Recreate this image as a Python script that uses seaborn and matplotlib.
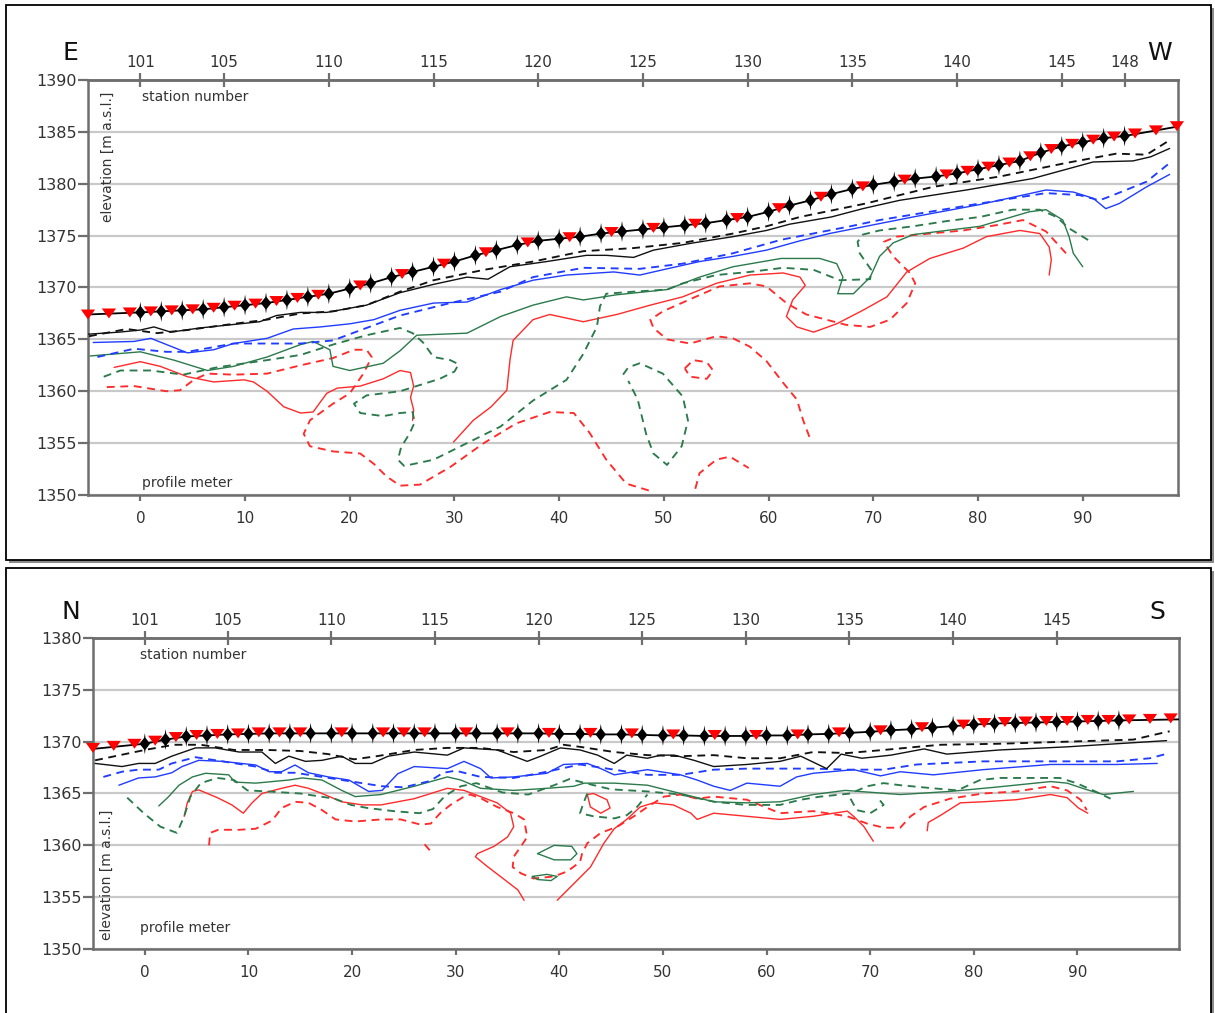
import matplotlib
matplotlib.use("Agg")
import matplotlib.pyplot as plt
import pandas as pd
import seaborn as sns
from matplotlib.patches import Rectangle

# ------------------------------------------------------------------ data
PROFILE_TICKS = [0, 10, 20, 30, 40, 50, 60, 70, 80, 90]
STATION_TICKS_EW = [101, 105, 110, 115, 120, 125, 130, 135, 140, 145, 148]
STATION_TICKS_NS = [101, 105, 110, 115, 120, 125, 130, 135, 140, 145]
STATION_M = [0, 2, 4, 6, 8, 10, 12, 14, 16, 18, 20, 22, 24, 26, 28, 30, 32, 34, 36, 38,
             40, 42, 44, 46, 48, 50, 52, 54, 56, 58, 60, 62, 64, 66, 68, 70, 72, 74, 76, 78,
             80, 82, 84, 86, 88, 90, 92, 94]

# --- E-W profile (upper panel)
EW_STATION_ELEV = [1367.6, 1367.7, 1367.8, 1367.9, 1368.1, 1368.3, 1368.5, 1368.8, 1369.1, 1369.4,
                   1369.9, 1370.4, 1371.0, 1371.5, 1372.0, 1372.5, 1373.1, 1373.6, 1374.1, 1374.5,
                   1374.7, 1374.9, 1375.2, 1375.4, 1375.6, 1375.8, 1376.0, 1376.2, 1376.5, 1376.8,
                   1377.3, 1377.9, 1378.4, 1379.0, 1379.5, 1379.9, 1380.2, 1380.5, 1380.7, 1381.0,
                   1381.4, 1381.8, 1382.2, 1383.0, 1383.6, 1384.0, 1384.4, 1384.6]
EW_TOPO_ENDS = [(-5, 1367.4), (99, 1385.5)]
EW_ELECTRODE_M = [-5, -3, -1, 1, 3, 5, 7, 9, 11, 13, 15, 17, 21, 25, 29, 33, 37, 41, 45, 49, 53,
                  57, 61, 65, 69, 73, 77, 79, 81, 83, 85, 87, 89, 91, 93, 95, 97, 99]
EW_ELECTRODE_ELEV = [1367.5, 1367.6, 1367.7, 1367.8, 1367.9, 1368.0, 1368.15, 1368.35, 1368.55,
                     1368.8, 1369.1, 1369.4, 1370.3, 1371.4, 1372.4, 1373.5, 1374.45, 1374.95,
                     1375.45, 1375.85, 1376.25, 1376.8, 1377.75, 1378.85, 1379.85, 1380.5,
                     1381.0, 1381.35, 1381.75, 1382.15, 1382.75, 1383.45, 1383.95, 1384.35,
                     1384.65, 1384.95, 1385.25, 1385.65]

EW_BLACK_SOLID = [(-5, 1365.5), (-2, 1365.7), (0, 1365.9), (1.3, 1366.2), (2.9, 1365.7), (5.7, 1366.1),
                  (11.4, 1366.7), (13, 1367.3), (15.3, 1367.6), (17.8, 1367.6), (21.6, 1368.3),
                  (24.8, 1369.5), (28, 1370.3), (31.2, 1371.0), (33.2, 1370.8), (35.3, 1372.0),
                  (38.8, 1372.5), (42.6, 1373.1), (44.5, 1373.1), (47.1, 1372.9), (49, 1373.6),
                  (52.8, 1374.3), (56.6, 1374.9), (59.8, 1375.5), (62, 1376.1), (66, 1376.8),
                  (69, 1377.6), (72.5, 1378.4), (78.9, 1379.4), (85.2, 1380.5), (91, 1382.1),
                  (94.8, 1382.2), (96.5, 1382.6), (98.3, 1383.4)]
EW_BLACK_DASH = [(-4.9, 1365.3), (-1.3, 1366.0), (1.6, 1365.6), (4.5, 1365.9), (8.9, 1366.5),
                 (12.1, 1366.9), (15.3, 1367.5), (18.4, 1367.7), (21.6, 1368.3), (24.8, 1369.6),
                 (28, 1370.7), (32.8, 1371.7), (37.5, 1372.5), (42.3, 1373.5), (47.1, 1373.8),
                 (51.8, 1374.3), (56.6, 1375.2), (59.8, 1375.9), (63, 1376.8), (69.3, 1378.1),
                 (75.7, 1379.7), (82.1, 1380.7), (88.4, 1382.0), (93.2, 1382.9), (96.1, 1382.8),
                 (98.3, 1384.2)]
EW_BLUE_SOLID = [(-4.5, 1364.7), (-0.6, 1364.8), (1.0, 1365.1), (2.5, 1364.5), (4.5, 1363.7),
                 (7, 1364.0), (8.9, 1364.6), (12.1, 1365.1), (14.6, 1366.0), (17.2, 1366.2),
                 (20, 1366.5), (22.3, 1366.9), (24.8, 1367.8), (28, 1368.5), (31.2, 1368.6),
                 (34.4, 1369.8), (37.5, 1370.7), (40.7, 1371.2), (45.2, 1371.5), (47.7, 1371.2),
                 (50.3, 1371.8), (53.4, 1372.5), (56.6, 1373.0), (59.8, 1373.6), (63, 1374.5),
                 (65.8, 1375.2), (69.8, 1376.0), (73.8, 1376.8), (80.2, 1378.0), (86.5, 1379.4),
                 (89.1, 1379.2), (91, 1378.6), (92.2, 1377.6), (93.5, 1378.1), (96.1, 1379.7),
                 (98.3, 1380.9)]
EW_BLUE_DASH = [(-4.1, 1363.3), (-0.6, 1364.1), (2.5, 1363.8), (4.5, 1363.8), (8.9, 1364.6),
                (15.3, 1364.6), (18.4, 1364.9), (21.6, 1366.1), (24.8, 1367.3), (29.6, 1368.5),
                (34.4, 1369.6), (37.5, 1371.0), (42.3, 1371.9), (47.7, 1371.8), (51.8, 1372.3),
                (56.6, 1373.3), (61.2, 1374.6), (67.8, 1375.9), (70.6, 1376.5), (80.2, 1378.1),
                (86.5, 1379.1), (89.7, 1378.9), (91.6, 1378.4), (92.9, 1378.9), (96.1, 1380.2),
                (98.3, 1382.0)]
EW_GREEN_SOLID = [(-4.8, 1363.4), (0, 1363.8), (3.2, 1363.0), (6.4, 1362.0), (8.9, 1362.4),
                  (12.1, 1363.3), (15.3, 1364.5), (16.5, 1364.8), (18.1, 1364.0), (18.4, 1362.4),
                  (20, 1362.0), (23.2, 1362.7), (24.8, 1363.9), (26.4, 1365.4), (31.2, 1365.6),
                  (34.4, 1367.2), (37.5, 1368.3), (40.7, 1369.1), (42.3, 1368.8), (45.5, 1369.3),
                  (50.3, 1369.8), (53.4, 1371.0), (56.6, 1372.0), (61.2, 1372.8), (64.9, 1372.8),
                  (66.5, 1372.3), (67.1, 1371.0), (66.6, 1369.4), (68.1, 1369.4), (69.7, 1371.0),
                  (70.6, 1373.0), (71.9, 1374.3), (73.8, 1375.1), (80.2, 1375.9), (84.9, 1377.3),
                  (86.5, 1377.5), (88.1, 1376.5), (88.7, 1374.9), (89.1, 1373.3), (90, 1372.0)]
EW_GREEN_DASH_A = [(-3.5, 1361.4), (-1.9, 1362.0), (1, 1362.0), (4.1, 1361.6), (7.3, 1362.3),
                   (12.1, 1363.0), (15.3, 1363.5), (18.4, 1364.5), (21.6, 1365.4), (24.8, 1366.1),
                   (26.0, 1365.6), (27.0, 1364.7), (28.0, 1363.3), (29.6, 1363.0), (30.4, 1362.6),
                   (30.0, 1361.9), (28.6, 1361.2), (26.7, 1360.6), (24.8, 1360.0), (21.6, 1359.6),
                   (20.4, 1358.8), (21.0, 1357.9), (23.2, 1357.6), (24.8, 1357.9), (26.0, 1358.0),
                   (26.2, 1357.0), (25.7, 1355.9), (24.9, 1354.6), (24.6, 1353.4), (25.2, 1352.8),
                   (28.0, 1353.4), (31.2, 1355.0), (34.4, 1356.6), (37.5, 1359.1), (40.7, 1361.1),
                   (42.3, 1363.6), (43.6, 1366.2), (43.9, 1368.2), (44.5, 1369.4), (47.1, 1369.6),
                   (50.3, 1369.8), (51.8, 1370.4), (55, 1371.2), (58.2, 1371.5), (61.4, 1371.9),
                   (64.3, 1371.7), (66.8, 1370.7), (69.7, 1370.8), (69.8, 1371.7), (68.7, 1373.3),
                   (68.5, 1374.4), (69, 1375.1), (70.6, 1375.5), (73.8, 1375.9), (77, 1376.4),
                   (80.2, 1376.8), (83.3, 1377.5), (85.9, 1377.5), (87.5, 1376.8), (88.7, 1375.7),
                   (90.8, 1374.4)]
EW_GREEN_DASH_B = [(46.1, 1361.6), (46.6, 1362.3), (47.7, 1362.7), (49.9, 1361.7), (51.8, 1359.5),
                   (52.3, 1357.2), (51.7, 1354.7), (50.3, 1352.9), (49.0, 1354.0), (48.3, 1355.9),
                   (47.5, 1359.2), (46.6, 1361.0)]
EW_RED_SOLID_A = [(-2.5, 1362.3), (0, 1362.85), (1.9, 1362.4), (4.5, 1361.4), (7, 1360.9),
                  (9.9, 1361.1), (10.8, 1360.9), (12.1, 1360.0), (13.7, 1358.5), (15.3, 1357.9),
                  (16.5, 1358.0), (17.8, 1359.8), (18.8, 1360.3), (21, 1360.5), (23.2, 1361.2),
                  (24.8, 1362.0), (25.8, 1361.8), (26.1, 1360.5), (25.8, 1359.4), (26.1, 1358.2),
                  (26.0, 1357.2)]
EW_RED_SOLID_B = [(29.9, 1355.1), (31.8, 1357.2), (33.5, 1358.5), (35, 1360.1), (35.3, 1363.0),
                  (35.6, 1364.9), (37.5, 1366.9), (39.1, 1367.4), (42.3, 1366.7), (45.5, 1367.4),
                  (48.7, 1368.3), (51.8, 1369.1), (55, 1370.4), (58.2, 1371.2), (61.4, 1371.4),
                  (63, 1371.0), (63.5, 1370.2), (62.3, 1368.8), (61.7, 1367.2), (62.7, 1366.2),
                  (64.3, 1365.7), (66.5, 1366.5), (69, 1367.8), (71.3, 1369.1), (73.2, 1371.5),
                  (75.4, 1372.8), (78.6, 1373.8), (80.8, 1374.9), (84, 1375.5), (85.9, 1375.2),
                  (86.8, 1373.9), (87, 1372.7), (86.8, 1371.2)]
EW_RED_DASH_A = [(-3.2, 1360.4), (-0.6, 1360.5), (2.5, 1360.0), (3.8, 1360.1), (5.1, 1361.1),
                 (6.4, 1361.7), (8.9, 1361.6), (12.1, 1361.7), (15.3, 1362.5), (18.4, 1363.2),
                 (20.4, 1364.0), (21.6, 1364.0), (22.1, 1363.3), (21.3, 1361.7), (20, 1359.8),
                 (18.4, 1358.8), (16.2, 1357.2), (15.6, 1355.9), (16.2, 1354.7), (18.4, 1354.2),
                 (21, 1354.0), (22.3, 1353.0), (23.5, 1351.8), (24.8, 1350.9), (26.7, 1351.0),
                 (29.6, 1352.7), (32.8, 1355.0), (35.9, 1356.9), (39.1, 1358.0), (41.4, 1357.9),
                 (42.9, 1356.0), (44.5, 1353.4), (46.4, 1351.1), (49, 1350.3)]
EW_RED_DASH_B = [(63.9, 1355.6), (63.3, 1357.2), (62.7, 1359.2), (61.4, 1360.8), (59.8, 1362.9),
                 (58.2, 1364.3), (56.6, 1365.1), (55, 1365.3), (52.5, 1364.6), (50.3, 1365.0),
                 (49, 1366.1), (48.7, 1366.9), (49.9, 1367.7), (52.8, 1369.0), (55.3, 1370.1),
                 (58.2, 1370.4), (59.8, 1370.1), (61.7, 1368.5), (63.6, 1367.4), (67.4, 1366.4),
                 (69.7, 1366.2), (71.6, 1366.9), (73.2, 1368.5), (74, 1370.4), (73.5, 1371.4),
                 (71.9, 1373.0), (71, 1374.4), (72.2, 1374.9), (75.4, 1375.2), (78.6, 1375.5),
                 (81.7, 1376.0), (84.3, 1376.5), (86.5, 1375.4), (87.5, 1374.3), (88.4, 1373.3)]
EW_RED_DASH_C = [(52.0, 1362.2), (52.8, 1363.0), (54.1, 1362.8), (54.7, 1362.0), (54.1, 1361.2),
                 (52.5, 1361.4), (52.0, 1362.2)]
EW_RED_DASH_D = [(53.0, 1350.6), (53.4, 1352.1), (55.0, 1353.4), (56.3, 1353.7), (58.1, 1352.6)]

# --- N-S profile (lower panel)
NS_STATION_ELEV = [1369.8, 1370.2, 1370.5, 1370.6, 1370.7, 1370.75, 1370.8, 1370.8, 1370.8, 1370.8,
                   1370.8, 1370.8, 1370.8, 1370.8, 1370.8, 1370.8, 1370.8, 1370.8, 1370.8, 1370.8,
                   1370.75, 1370.75, 1370.7, 1370.7, 1370.65, 1370.6, 1370.6, 1370.55, 1370.55,
                   1370.55, 1370.6, 1370.6, 1370.7, 1370.75, 1370.85, 1370.95, 1371.1, 1371.2,
                   1371.35, 1371.5, 1371.65, 1371.75, 1371.8, 1371.85, 1371.9, 1371.95, 1372.0,
                   1372.05]
NS_TOPO_ENDS = [(-5, 1369.3), (99.8, 1372.15)]
NS_ELECTRODE_M = [-5, -3, -1, 1, 3, 5, 7, 9, 11, 13, 15, 19, 23, 25, 27, 31, 35, 39, 43, 47, 51,
                  55, 59, 63, 67, 71, 75, 79, 81, 83, 85, 87, 89, 91, 93, 95, 97, 99]
NS_ELECTRODE_ELEV = [1369.5, 1369.7, 1369.9, 1370.2, 1370.55, 1370.75, 1370.85, 1370.9, 1371.0,
                     1371.0, 1371.0, 1371.0, 1371.0, 1371.0, 1371.0, 1371.0, 1371.0, 1370.95,
                     1370.95, 1370.9, 1370.8, 1370.75, 1370.75, 1370.8, 1371.0, 1371.2, 1371.5,
                     1371.75, 1371.9, 1372.0, 1372.05, 1372.1, 1372.1, 1372.2, 1372.2, 1372.25,
                     1372.3, 1372.35]

NS_BLACK_SOLID = [(-4.8, 1367.9), (-2.2, 1367.6), (-0.6, 1367.9), (1.0, 1367.9), (2.6, 1368.6),
                  (4.9, 1369.4), (6.8, 1369.4), (9.1, 1369.0), (11.3, 1369.0), (12.6, 1367.9),
                  (13.9, 1368.6), (15.5, 1368.1), (17.1, 1368.2), (19.0, 1368.6), (20.3, 1367.9),
                  (21.9, 1367.9), (23.5, 1368.6), (26, 1369.0), (29.2, 1368.7), (30.8, 1369.4),
                  (34, 1369.2), (35.6, 1368.6), (36.9, 1368.1), (38.2, 1368.6), (40.1, 1369.4),
                  (42, 1369.2), (43.7, 1368.7), (45.3, 1367.9), (46.5, 1368.7), (48.5, 1368.4),
                  (49.8, 1368.7), (51.1, 1368.7), (53, 1368.2), (54.9, 1367.6), (58.1, 1367.8),
                  (61.3, 1368.1), (63.3, 1368.6), (65.8, 1367.4), (67.2, 1368.8), (69.2, 1368.4),
                  (72, 1368.7), (75.2, 1369.3), (77.4, 1368.8), (82.5, 1369.2), (89, 1369.5),
                  (93.8, 1369.8), (98.6, 1370.1)]
NS_BLACK_DASH = [(-4.8, 1368.2), (-2.4, 1368.7), (0, 1369.2), (2.8, 1369.7), (5.4, 1369.7),
                 (8.6, 1369.2), (11.8, 1369.2), (15, 1369.1), (17.7, 1368.8), (20.2, 1368.3),
                 (22.4, 1368.6), (26, 1369.2), (29.2, 1369.4), (32.4, 1369.4), (35.6, 1369.0),
                 (38.8, 1369.2), (40.4, 1369.7), (42, 1369.5), (45.3, 1369.0), (48.5, 1368.7),
                 (51.7, 1368.6), (54.9, 1368.7), (58.1, 1368.4), (61.3, 1368.4), (64.5, 1369.0),
                 (67.8, 1368.9), (71.3, 1369.2), (74.5, 1369.5), (76.8, 1369.7), (82.5, 1369.8),
                 (89, 1370.0), (95.4, 1370.2), (98, 1370.8), (98.9, 1371.0)]
NS_BLUE_SOLID = [(-2.5, 1365.8), (-0.6, 1366.5), (1.0, 1366.6), (2.6, 1367.0), (3.6, 1367.6),
                 (5.2, 1368.2), (7.5, 1368.1), (10.7, 1367.75), (12, 1367.1), (13.2, 1367.1),
                 (14.5, 1367.75), (15.8, 1367.0), (17.7, 1366.6), (19.7, 1366.3), (21.6, 1365.2),
                 (22.9, 1365.3), (24.4, 1366.9), (26, 1367.6), (29.2, 1367.4), (30.8, 1368.1),
                 (32.4, 1367.4), (33.4, 1366.5), (35.6, 1366.6), (38.8, 1366.95), (40.4, 1367.8),
                 (42.7, 1367.9), (44, 1367.4), (45.3, 1366.8), (48.5, 1367.3), (51.7, 1366.8),
                 (53.3, 1366.3), (54.9, 1365.7), (56.5, 1365.3), (58.1, 1366.0), (61.3, 1365.7),
                 (62.9, 1366.6), (64.5, 1366.95), (68.4, 1367.3), (71, 1366.7), (72.9, 1367.1),
                 (76.1, 1366.8), (80.9, 1367.3), (87.4, 1367.8), (93.8, 1367.8), (97.7, 1367.9)]
NS_BLUE_DASH = [(-4.0, 1366.6), (-2.2, 1367.1), (-0.6, 1367.3), (1.35, 1367.3), (2.6, 1367.9),
                (4.9, 1368.5), (7.5, 1368.1), (10.7, 1367.6), (12.6, 1367.0), (14.5, 1367.0),
                (17.1, 1366.6), (20.3, 1366.1), (22.9, 1365.7), (25, 1365.6), (27.5, 1366.2),
                (28.8, 1367.0), (30, 1367.2), (32.4, 1366.6), (35.6, 1366.5), (38.8, 1367.1),
                (42, 1367.8), (45.3, 1367.3), (48.5, 1366.8), (51.7, 1366.8), (54.9, 1367.3),
                (58.1, 1367.4), (61.3, 1367.4), (64.5, 1367.4), (67.8, 1367.3), (71.3, 1367.3),
                (74.5, 1367.8), (80.9, 1368.1), (93.8, 1368.1), (97, 1368.4), (98.5, 1368.8)]
NS_GREEN_SOLID = [(1.35, 1363.8), (2.3, 1364.7), (3.3, 1365.8), (4.6, 1366.6), (5.85, 1366.95),
                  (8.1, 1366.8), (8.7, 1366.1), (10.7, 1366.0), (13.9, 1366.3), (15.2, 1366.5),
                  (17.1, 1366.3), (19, 1365.3), (20.3, 1364.7), (22.8, 1364.9), (26, 1365.7),
                  (29.2, 1366.6), (30.5, 1366.3), (32.4, 1365.5), (35.6, 1365.3), (38.8, 1365.5),
                  (41.4, 1365.7), (42.4, 1366.0), (45.3, 1366.0), (48.5, 1365.8), (51.7, 1365.0),
                  (54.9, 1364.2), (58.1, 1364.1), (61.3, 1364.2), (64.5, 1364.9), (67.6, 1365.3),
                  (72.9, 1364.9), (77.7, 1365.2), (82, 1365.6), (87.4, 1366.15), (89, 1366.0),
                  (90.8, 1365.4), (92.5, 1364.9), (95.4, 1365.2)]
NS_GREEN_SOLID_LOOP_A = [(37.9, 1359.2), (39.5, 1360.0), (41.2, 1359.9), (41.7, 1359.2),
                         (41.1, 1358.6), (39.5, 1358.6), (37.9, 1359.2)]
NS_GREEN_SOLID_LOOP_B = [(37.4, 1357.0), (38.8, 1357.2), (39.8, 1357.0), (39.2, 1356.6),
                         (37.9, 1356.7), (37.4, 1357.0)]
NS_GREEN_DASH_A = [(-1.7, 1364.6), (-0.1, 1363.1), (1.5, 1361.8), (3.1, 1361.2), (3.8, 1362.8),
                   (4.4, 1364.7), (5.4, 1366.0), (7.0, 1366.5), (8.6, 1366.3), (9.9, 1365.3),
                   (11.8, 1365.2), (15.0, 1365.0), (18.3, 1364.5), (19.9, 1363.9), (21.5, 1363.6),
                   (24, 1363.3), (26.5, 1363.1), (27.8, 1363.5), (29, 1364.8), (30.5, 1365.7),
                   (32.0, 1366.0), (34.5, 1365.1), (37, 1364.9), (39.5, 1365.8), (41.0, 1366.4),
                   (42.5, 1366.0), (45, 1365.4), (48.5, 1365.2), (51.7, 1364.9), (55, 1364.2),
                   (58, 1363.9), (61.3, 1363.9), (63.3, 1364.4), (65.2, 1364.7), (68.1, 1365.0),
                   (69.7, 1365.7), (71.3, 1366.0), (72.9, 1365.8), (76.1, 1365.5), (78.4, 1365.3),
                   (79.5, 1365.8), (80.6, 1366.3), (82.5, 1366.5), (85.8, 1366.5), (88.3, 1366.5),
                   (89.9, 1366.0), (91.5, 1365.3), (93.2, 1364.5)]
NS_GREEN_DASH_B = [(42.7, 1365.0), (42.3, 1364.0), (42.0, 1363.1), (43.3, 1362.8), (45.3, 1362.6),
                   (46.5, 1362.9), (47.5, 1363.7), (48.5, 1364.9)]
NS_GREEN_DASH_C = [(68.1, 1364.5), (68.7, 1363.4), (70, 1363.1), (71.3, 1363.9), (70.8, 1364.5)]
NS_RED_SOLID_A = [(3.8, 1362.8), (4.1, 1364.1), (4.6, 1365.2), (5.2, 1365.35), (7.0, 1364.6),
                  (8.4, 1363.9), (9.5, 1363.1), (10.35, 1364.1), (11.3, 1365.0), (13.2, 1365.5),
                  (14.5, 1365.8), (15.8, 1365.5), (17.1, 1365.0), (19, 1364.2), (21, 1363.9),
                  (22.8, 1363.9), (26, 1364.5), (29.2, 1365.5), (30.8, 1365.3), (32.4, 1364.7),
                  (34, 1364.1), (35.3, 1363.1), (35.6, 1361.8), (35, 1360.8), (33.7, 1359.9),
                  (32.1, 1359.2), (31.9, 1358.9), (33.0, 1358.0), (34.7, 1356.7), (36, 1355.7),
                  (36.6, 1354.7)]
NS_RED_SOLID_B = [(39.8, 1354.7), (41.4, 1356.3), (43, 1357.9), (44.3, 1360.2), (45.3, 1361.6),
                  (46.5, 1362.5), (47.8, 1363.7), (49.1, 1364.1), (51, 1363.9), (52.7, 1363.1),
                  (53.3, 1362.5), (54.9, 1363.1), (58.1, 1362.8), (61.3, 1362.5), (64.5, 1362.8),
                  (67.8, 1363.3), (68.4, 1362.8), (69.4, 1361.8), (70.3, 1360.4)]
NS_RED_SOLID_C = [(75.5, 1361.4), (75.6, 1362.2), (76.8, 1362.9), (78.7, 1364.1), (80.9, 1364.2),
                  (84.1, 1364.4), (87.4, 1364.9), (89, 1364.6), (90.1, 1363.6), (91.0, 1363.1)]
NS_RED_SOLID_LOOP = [(42.7, 1364.9), (43.3, 1365.0), (44.6, 1364.4), (44.9, 1363.6), (44, 1363.1),
                     (43, 1363.7), (42.7, 1364.9)]
NS_RED_DASH_A = [(6.2, 1360.0), (6.3, 1361.2), (7.1, 1361.5), (9.1, 1361.5), (10.7, 1361.6),
                 (12.3, 1362.4), (13.2, 1363.6), (14.5, 1364.2), (15.8, 1364.1), (17.1, 1363.4),
                 (18.4, 1362.5), (20.3, 1362.3), (22.8, 1362.5), (24.7, 1362.5), (26.6, 1362.0),
                 (27.6, 1362.1), (28.5, 1363.1), (29.5, 1363.9), (30.8, 1364.7), (31.4, 1364.9),
                 (32.5, 1364.5), (34, 1363.7), (35.6, 1363.1), (36.6, 1362.5), (36.9, 1360.8),
                 (36.3, 1359.9), (35.6, 1358.9), (35.5, 1357.9), (36.3, 1357.3), (37.5, 1356.8),
                 (39.5, 1357.0), (40.8, 1357.5), (42, 1358.4), (42.2, 1359.2), (42.7, 1360.2),
                 (44, 1361.2), (45.6, 1361.8), (47.2, 1362.8), (48.5, 1363.7), (50.1, 1364.7),
                 (51.7, 1364.9), (53.3, 1364.5), (54.9, 1364.7), (58.1, 1364.4), (61.3, 1363.1),
                 (64.5, 1363.3), (67.8, 1362.8), (69.7, 1362.1), (71.3, 1361.7), (72.9, 1361.7),
                 (73.9, 1362.8), (75.2, 1363.7), (77.7, 1364.5), (80.9, 1365.0), (84.1, 1365.2),
                 (87.4, 1365.7), (89, 1365.3), (90.3, 1364.4), (90.9, 1363.4)]
NS_RED_DASH_B = [(27.0, 1360.1), (27.6, 1359.4)]

# ------------------------------------------------------------------ style
sns.set_style("white")
plt.rcParams["font.family"] = ["DejaVu Sans"]

W, H = 1215, 1013
fig = plt.figure(figsize=(W / 100, H / 100), dpi=100)


def fx(px):
    return px / W


def fy(py):
    return 1 - py / H


BLACK, BLUE, GREEN, RED = "#111111", "#1f3cff", "#2b7a4b", "#ff2a2a"
AX_COL, TXT_COL, GRID_COL = "#6e6e6e", "#333333", "#c9c9c9"
DASH = (0, (4.2, 3.0))

# frames with shadows (figure background boxes)
for (x0, y0, x1, y1) in [(6, 5, 1211, 560), (6, 568, 1211, 1030)]:
    fig.patches.append(Rectangle((fx(x0 + 3), fy(y1 + 3)), fx(x1 - x0), (y1 - y0) / H,
                                 transform=fig.transFigure, facecolor="#8a8a8a",
                                 edgecolor="none", zorder=-20))
    fig.patches.append(Rectangle((fx(x0), fy(y1)), fx(x1 - x0), (y1 - y0) / H,
                                 transform=fig.transFigure, facecolor="white",
                                 edgecolor="black", linewidth=1.3, zorder=-19))


def curve(ax, pts, color, dashed=False, lw=None):
    df = pd.DataFrame(pts, columns=["m", "elev"])
    sns.lineplot(data=df, x="m", y="elev", sort=False, estimator=None, ax=ax,
                 color=color, linewidth=lw if lw else (1.35 if dashed else 1.0),
                 linestyle=DASH if dashed else "-", legend=False, zorder=3)


STAR = [(0, 1.0), (0.07, 0.55), (0.5, 0), (0.07, -0.55), (0, -1.0), (-0.07, -0.55),
        (-0.5, 0), (-0.07, 0.55)]
TRI = [(-1, 0.55), (1, 0.55), (0, -0.85)]


def panel(rect, ylim, xlim, yticks, station_ticks, station_m, station_elev, topo_ends,
          el_m, el_elev, curves):
    ax = fig.add_axes(rect)

    for pts, color, dashed in curves:
        curve(ax, pts, color, dashed)

    topo = [topo_ends[0]] + list(zip(station_m, station_elev)) + [topo_ends[1]]
    curve(ax, topo, "black", False, lw=1.3)
    sns.scatterplot(x=station_m, y=station_elev, marker=STAR, s=230, color="black",
                    edgecolor="none", linewidth=0, ax=ax, zorder=5, clip_on=False, legend=False)
    sns.scatterplot(x=el_m, y=el_elev, marker=TRI, s=105, color="#ff0000",
                    edgecolor="none", linewidth=0, ax=ax, zorder=6, clip_on=False, legend=False)

    ax.set_xlim(*xlim)
    ax.set_ylim(*ylim)
    ax.set_yticks(yticks)
    ax.set_xticks(PROFILE_TICKS)
    ax.set_xlabel("")
    ax.set_ylabel("")
    ax.yaxis.grid(True, color=GRID_COL, linewidth=1.6)
    ax.xaxis.grid(False)
    ax.set_axisbelow(True)
    for s in ax.spines.values():
        s.set_visible(True)
        s.set_color(AX_COL)
        s.set_linewidth(1.8)
    ax.tick_params(axis="y", direction="out", length=7, width=1.6, color=AX_COL,
                   labelsize=11.5, labelcolor=TXT_COL, pad=1, left=True)
    ax.tick_params(axis="x", direction="out", length=4.5, width=1.6, color=AX_COL,
                   labelsize=11, labelcolor=TXT_COL, pad=7, bottom=True)

    sec = ax.secondary_xaxis("top", functions=(lambda m: 101 + m / 2.0, lambda s: (s - 101) * 2.0))
    sec.set_xticks(station_ticks)
    sec.set_xticklabels([str(t) for t in station_ticks])
    sec.tick_params(direction="inout", length=10, width=1.6, color=AX_COL,
                    labelsize=11, labelcolor=TXT_COL, pad=2)
    sec.spines["top"].set_color(AX_COL)
    sec.spines["top"].set_linewidth(1.8)
    return ax


EW_CURVES = [
    (EW_RED_DASH_A, RED, True), (EW_RED_DASH_B, RED, True), (EW_RED_DASH_C, RED, True),
    (EW_RED_DASH_D, RED, True), (EW_RED_SOLID_A, RED, False), (EW_RED_SOLID_B, RED, False),
    (EW_GREEN_DASH_A, GREEN, True), (EW_GREEN_DASH_B, GREEN, True), (EW_GREEN_SOLID, GREEN, False),
    (EW_BLUE_DASH, BLUE, True), (EW_BLUE_SOLID, BLUE, False),
    (EW_BLACK_DASH, BLACK, True), (EW_BLACK_SOLID, BLACK, False),
]
NS_CURVES = [
    (NS_RED_DASH_A, RED, True), (NS_RED_DASH_B, RED, True), (NS_RED_SOLID_A, RED, False),
    (NS_RED_SOLID_B, RED, False), (NS_RED_SOLID_C, RED, False), (NS_RED_SOLID_LOOP, RED, False),
    (NS_GREEN_DASH_A, GREEN, True), (NS_GREEN_DASH_B, GREEN, True), (NS_GREEN_DASH_C, GREEN, True),
    (NS_GREEN_SOLID, GREEN, False), (NS_GREEN_SOLID_LOOP_A, GREEN, False),
    (NS_GREEN_SOLID_LOOP_B, GREEN, False),
    (NS_BLUE_DASH, BLUE, True), (NS_BLUE_SOLID, BLUE, False),
    (NS_BLACK_DASH, BLACK, True), (NS_BLACK_SOLID, BLACK, False),
]

ax1 = panel([fx(88), fy(495), fx(1178) - fx(88), (495 - 80) / H], (1350, 1390), (-5, 99.1),
            [1350, 1355, 1360, 1365, 1370, 1375, 1380, 1385, 1390], STATION_TICKS_EW,
            STATION_M, EW_STATION_ELEV, EW_TOPO_ENDS, EW_ELECTRODE_M, EW_ELECTRODE_ELEV, EW_CURVES)
ax2 = panel([fx(93), fy(949), fx(1179) - fx(93), (949 - 638) / H], (1350, 1380), (-5, 99.8),
            [1350, 1355, 1360, 1365, 1370, 1375, 1380], STATION_TICKS_NS,
            STATION_M, NS_STATION_ELEV, NS_TOPO_ENDS, NS_ELECTRODE_M, NS_ELECTRODE_ELEV, NS_CURVES)

# annotations
for (txt, px, py) in [("E", 70, 53), ("W", 1160, 53), ("N", 71, 612), ("S", 1157, 612)]:
    fig.text(fx(px), fy(py), txt, fontsize=18, color="#111111", ha="center", va="center")
for (txt, px, py) in [("station number", 142, 97), ("profile meter", 142, 483),
                      ("station number", 140, 655), ("profile meter", 140, 928)]:
    fig.text(fx(px), fy(py), txt, fontsize=10, color=TXT_COL, ha="left", va="center")
fig.text(fx(108), fy(157), "elevation [m a.s.l.]", fontsize=10, color=TXT_COL,
         rotation=90, ha="center", va="center")
fig.text(fx(107), fy(875), "elevation [m a.s.l.]", fontsize=10, color=TXT_COL,
         rotation=90, ha="center", va="center")

fig.savefig("out.png", dpi=100)
